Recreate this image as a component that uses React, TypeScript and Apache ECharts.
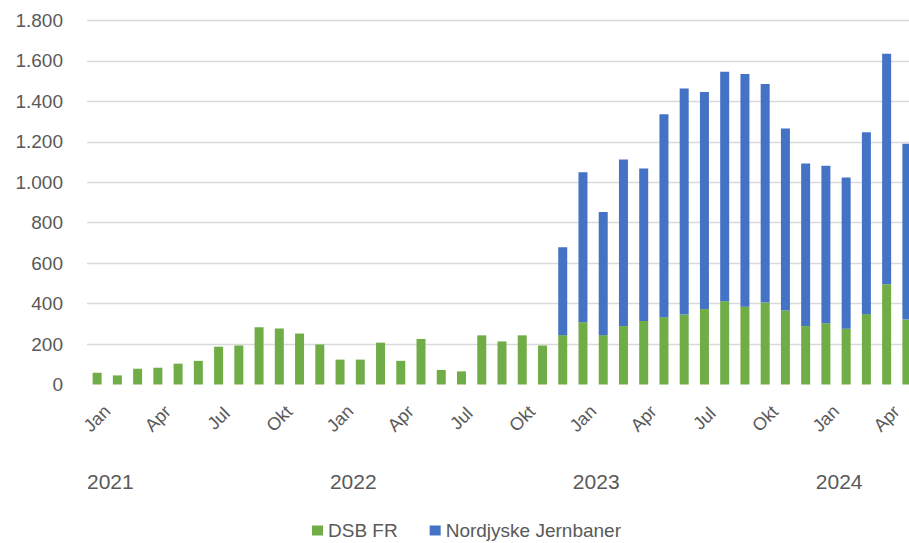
import React, { useEffect, useRef } from "react";
import * as echarts from "echarts";

const months: string[] = [
  "Jan", "Feb", "Mar", "Apr", "Maj", "Jun", "Jul", "Aug", "Sep", "Okt", "Nov", "Dec",
  "Jan", "Feb", "Mar", "Apr", "Maj", "Jun", "Jul", "Aug", "Sep", "Okt", "Nov", "Dec",
  "Jan", "Feb", "Mar", "Apr", "Maj", "Jun", "Jul", "Aug", "Sep", "Okt", "Nov", "Dec",
  "Jan", "Feb", "Mar", "Apr", "Maj",
];

const years: string[] = ["2021", "2022", "2023", "2024"];

const dsbFR: number[] = [
  58, 45, 78, 83, 103, 117, 187, 193, 283, 277, 252, 198,
  123, 123, 207, 117, 225, 72, 65, 243, 213, 243, 193, 244,
  308, 244, 289, 314, 333, 346, 373, 412, 385, 405, 366, 289,
  303, 276, 348, 496, 321,
];

const nordjyske: (number | null)[] = [
  null, null, null, null, null, null, null, null, null, null, null, null,
  null, null, null, null, null, null, null, null, null, null, null, 435,
  742, 609, 824, 754, 1004, 1118, 1073, 1135, 1150, 1081, 900, 804,
  779, 748, 899, 1140, 869,
];

const FONT = "'Liberation Sans', Arial, sans-serif";
const TXT = "#595959";

export default function App() {
  const ref = useRef<HTMLDivElement>(null);
  useEffect(() => {
    if (!ref.current) return;
    const chart = echarts.init(ref.current, null, { renderer: "svg" });
    chart.setOption({
      animation: false,
      textStyle: { fontFamily: FONT },
      grid: { left: 87, right: 0, top: 20.5, bottom: 158.5, containLabel: false },
      legend: {
        left: 312,
        top: 521,
        padding: 0,
        itemWidth: 11,
        itemHeight: 10,
        itemGap: 32,
        icon: "rect",
        textStyle: { fontSize: 19, color: TXT, fontFamily: FONT },
        data: ["DSB FR", "Nordjyske Jernbaner"],
      },
      xAxis: [
        {
          type: "category",
          data: months,
          axisLine: { show: false },
          axisTick: { show: false },
          axisLabel: {
            interval: 2,
            rotate: 45,
            align: "center",
            verticalAlign: "middle",
            fontSize: 18,
            color: TXT,
            margin: 34,
            fontFamily: FONT,
          },
        },
        {
          type: "value",
          position: "bottom",
          min: 0,
          max: months.length,
          interval: 12,
          offset: 78,
          axisLine: { show: false },
          axisTick: { show: false },
          splitLine: { show: false },
          axisLabel: {
            align: "left",
            fontSize: 21,
            color: TXT,
            fontFamily: FONT,
            showMaxLabel: false,
            formatter: (v: number) => (v % 12 === 0 && years[v / 12]) || "",
          },
        },
      ],
      yAxis: {
        type: "value",
        min: 0,
        max: 1800,
        interval: 200,
        axisLine: { show: false },
        axisTick: { show: false },
        axisLabel: {
          fontSize: 19,
          color: TXT,
          margin: 24,
          fontFamily: FONT,
          formatter: (v: number) => v.toString().replace(/\B(?=(\d{3})+(?!\d))/g, "."),
        },
        splitLine: { showMinLine: false, lineStyle: { color: "#d9d9d9", width: 1.3 } },
      },
      series: [
        {
          name: "DSB FR",
          type: "bar",
          stack: "total",
          barWidth: 9,
          data: dsbFR,
          itemStyle: { color: "#70AD47" },
        },
        {
          name: "Nordjyske Jernbaner",
          type: "bar",
          stack: "total",
          barWidth: 9,
          data: nordjyske,
          itemStyle: { color: "#4472C4" },
        },
      ],
    });
    return () => chart.dispose();
  }, []);
  return (
    <div
      ref={ref}
      style={{ position: "fixed", left: 0, top: 0, width: 917, height: 543, background: "#fff" }}
    />
  );
}
